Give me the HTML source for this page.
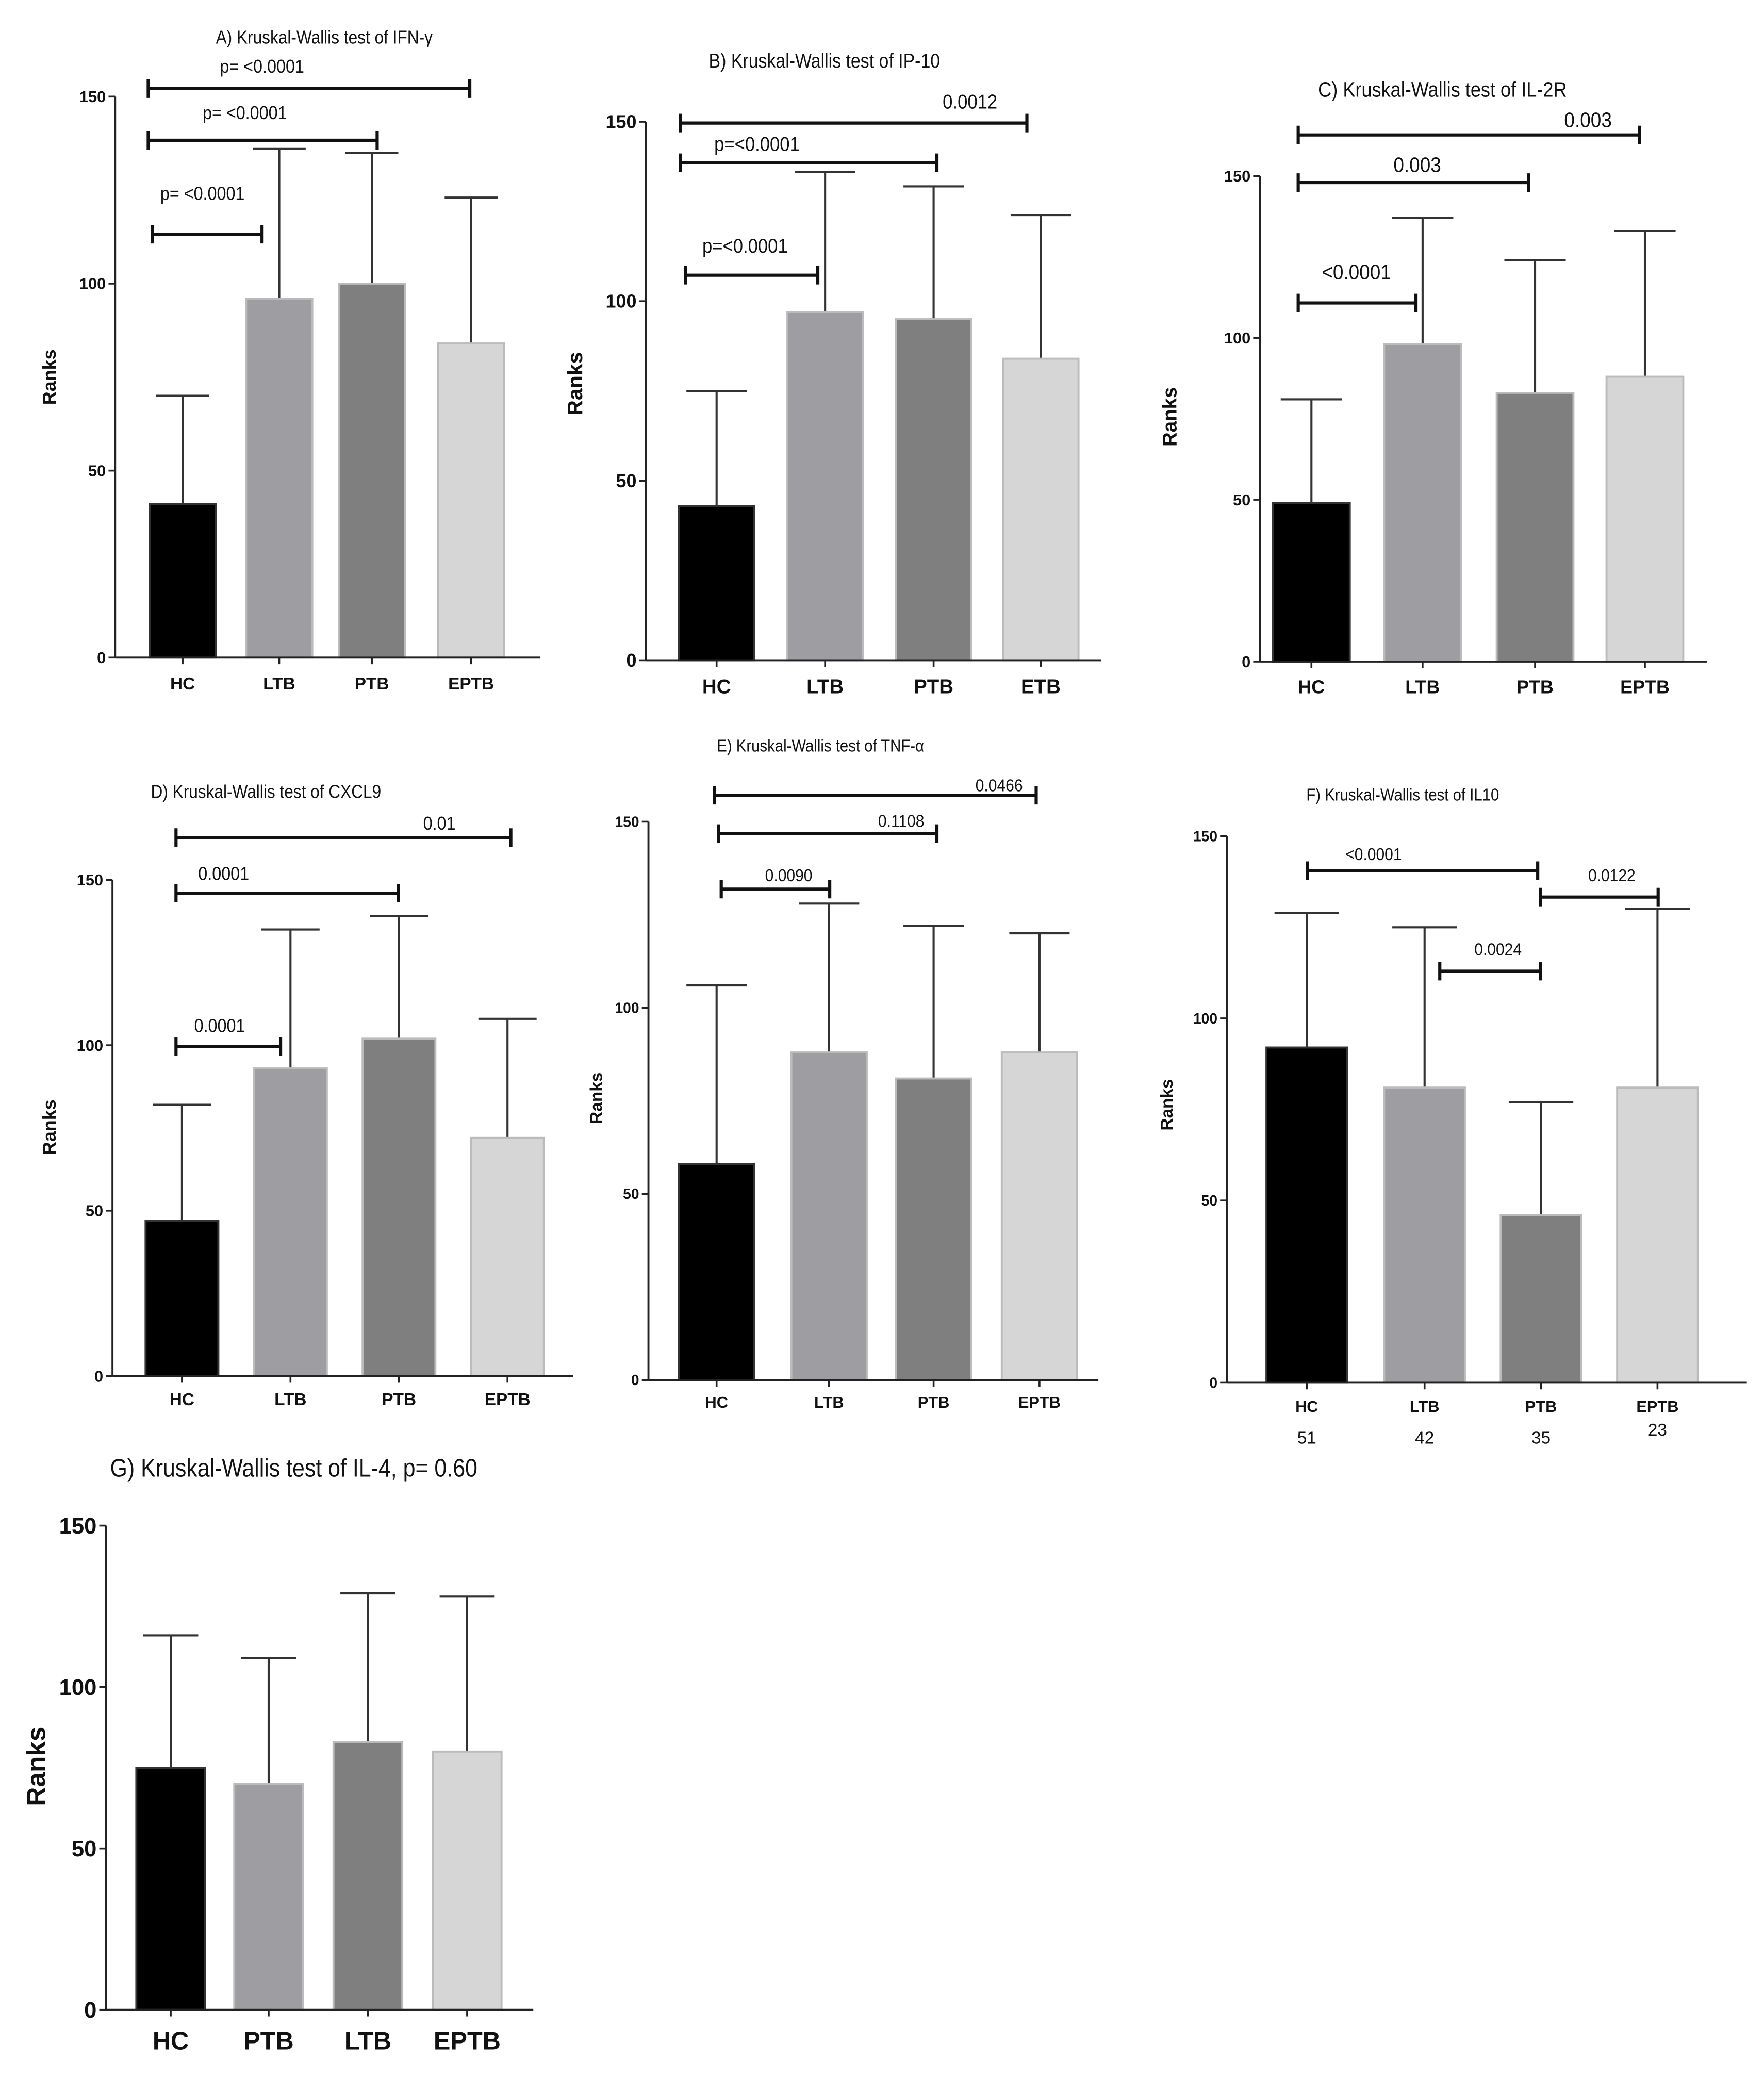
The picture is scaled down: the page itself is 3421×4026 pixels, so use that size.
<!DOCTYPE html>
<html><head><meta charset="utf-8">
<style>
html,body{margin:0;padding:0;background:#fff;}
svg{display:block;}
text{font-family:"Liberation Sans",Arial,sans-serif;fill:#111;}
</style></head>
<body>
<svg id="fig" width="3421" height="4026" viewBox="0 0 1333 1569" preserveAspectRatio="none" xmlns="http://www.w3.org/2000/svg"></svg>
<script>
// ---- data ----
const catsA = ["HC","LTB","PTB","EPTB"];
const valsA = [41, 96, 100, 84];
const errsA = [70, 136, 135, 123];
const catsB = ["HC","LTB","PTB","ETB"];
const valsB = [43, 97, 95, 84];
const errsB = [75, 136, 132, 124];
const catsC = ["HC","LTB","PTB","EPTB"];
const valsC = [49, 98, 83, 88];
const errsC = [81, 137, 124, 133];
const catsD = ["HC","LTB","PTB","EPTB"];
const valsD = [47, 93, 102, 72];
const errsD = [82, 135, 139, 108];
const catsE = ["HC","LTB","PTB","EPTB"];
const valsE = [58, 88, 81, 88];
const errsE = [106, 128, 122, 120];
const catsF = ["HC","LTB","PTB","EPTB"];
const valsF = [92, 81, 46, 81];
const errsF = [129, 125, 77, 130];
const countsF = ["51","42","35","23"];
const catsG = ["HC","PTB","LTB","EPTB"];
const valsG = [75, 70, 83, 80];
const errsG = [116, 109, 129, 128];
const yTicks = [0, 50, 100, 150];

const colors = ["#000000","#9e9ea2","#7f7f7f","#d6d6d6"];
const svg = document.getElementById('fig');
const NS = "http://www.w3.org/2000/svg";
function mk(tag, attrs, parent){
  const e = document.createElementNS(NS, tag);
  for (const k in attrs) e.setAttribute(k, attrs[k]);
  (parent||svg).appendChild(e);
  return e;
}

const panels = [
 {id:"a", cats:catsA, vals:valsA, errs:errsA, ax:87, ytop:73, ybot:497, xend:408, bx:[113,186,256,331], bw:50,
  title:"A) Kruskal-Wallis test of IFN-\u03b3", tx:245, ty:33, fs:14, tfs:12, xfs:13, rx:42, ry:285, xly:521,
  br:[[112,355,67,"p= <0.0001",198,55],[112,285,106,"p= <0.0001",185,90],[115,198,177,"p= <0.0001",153,151]]},
 {id:"b", cats:catsB, vals:valsB, errs:errsB, ax:488, ytop:92, ybot:499, xend:832, bx:[513,595,677,758], bw:57,
  title:"B) Kruskal-Wallis test of IP-10", tx:623, ty:51, fs:15, tfs:14, xfs:15, rx:440, ry:290, xly:524,
  br:[[514,776,93,"0.0012",733,82],[514,708,123,"p=<0.0001",572,114],[518,618,208,"p=<0.0001",563,191]]},
 {id:"c", cats:catsC, vals:valsC, errs:errsC, ax:952, ytop:133, ybot:500, xend:1290, bx:[962,1046,1131,1214], bw:58,
  title:"C) Kruskal-Wallis test of IL-2R", tx:1090, ty:73, fs:16, tfs:12, xfs:14, rx:889, ry:315, xly:524,
  br:[[981,1239,102,"0.003",1200,96],[981,1155,138,"0.003",1071,130],[981,1070,229,"<0.0001",1025,211]]},
 {id:"d", cats:catsD, vals:valsD, errs:errsD, ax:85, ytop:665, ybot:1040, xend:433, bx:[110,192,274,356], bw:55,
  title:"D) Kruskal-Wallis test of CXCL9", tx:201, ty:603, fs:14, tfs:12, xfs:13, rx:42, ry:852, xly:1062,
  br:[[133,386,633,"0.01",332,627],[133,301,675,"0.0001",169,665],[133,212,791,"0.0001",166,780]]},
 {id:"e", cats:catsE, vals:valsE, errs:errsE, ax:490, ytop:621, ybot:1043, xend:830, bx:[513,598,677,757], bw:57,
  title:"E) Kruskal-Wallis test of TNF-\u03b1", tx:620, ty:568, fs:13, tfs:11, xfs:12, rx:455, ry:830, xly:1064,
  br:[[540,783,601,"0.0466",755,598],[543,708,630,"0.1108",681,625],[545,627,672,"0.0090",596,666]]},
 {id:"f", cats:catsF, vals:valsF, errs:errsF, ax:927, ytop:632, ybot:1045, xend:1320, bx:[957,1046,1134,1222], bw:61,
  title:"F) Kruskal-Wallis test of IL10", tx:1060, ty:605, fs:13, tfs:11, xfs:12, rx:886, ry:835, xly:1067,
  br:[[988,1162,658,"<0.0001",1038,650],[1164,1253,678,"0.0122",1218,666],[1088,1164,734,"0.0024",1132,722]]},
 {id:"g", cats:catsG, vals:valsG, errs:errsG, ax:80, ytop:1153, ybot:1519, xend:403, bx:[103,177,252,327], bw:52,
  title:"G) Kruskal-Wallis test of IL-4, p= 0.60", tx:222, ty:1116, fs:19, tfs:17, xfs:19, rx:34, ry:1335, xly:1549, br:[]}
];

panels.forEach(p=>{
  const g = mk('g', {});
  
  
  const y = v => p.ybot - (v/150)*(p.ybot - p.ytop);
  const t = mk('text', {x:p.tx, y:p.ty, 'text-anchor':'middle', 'font-size':p.fs, 'transform':`translate(${p.tx},0) scale(0.88,1) translate(${-p.tx},0)`}, g);
  t.textContent = p.title;
  
  
  const yl = mk('text', {x:p.rx, y:p.ry, 'text-anchor':'middle', 'font-size':p.xfs+1, 'font-weight':'bold', transform:`rotate(-90 ${p.rx} ${p.ry})`}, g);
  yl.textContent = "Ranks";
  
  
  p.vals.forEach((v,i)=>{
    const x0 = p.bx[i], cx = x0 + p.bw/2;
    const eb = mk('line', {x1:cx, x2:cx, y1:y(v), y2:y(p.errs[i]), stroke:'#333', 'stroke-width':1.6}, g);
    
    
    const cap = mk('line', {x1:cx-p.bw*0.4, x2:cx+p.bw*0.4, y1:y(p.errs[i]), y2:y(p.errs[i]), stroke:'#333', 'stroke-width':1.6}, g);
    
    
    const r = mk('rect', {x:x0, y:y(v), width:p.bw, height:p.ybot - y(v), fill:colors[i], stroke: i===0?'#333':'#bbb', 'stroke-width':1.5}, g);
    
    
    const tk = mk('line', {x1:cx, x2:cx, y1:p.ybot, y2:p.ybot+5, stroke:'#222', 'stroke-width':1.4}, g);
    
    
    const xl = mk('text', {x:cx, y:p.xly, 'text-anchor':'middle', 'font-size':p.xfs, 'font-weight':'bold'}, g);
    xl.textContent = p.cats[i];
    
    
  });
  const yaxis = mk('line', {x1:p.ax, x2:p.ax, y1:p.ytop, y2:p.ybot, stroke:'#222', 'stroke-width':1.5}, g);
  
  
  const xaxis = mk('line', {x1:p.ax, x2:p.xend, y1:p.ybot, y2:p.ybot, stroke:'#222', 'stroke-width':1.5}, g);
  
  
  yTicks.forEach(tv=>{
    const tl = mk('line', {x1:p.ax-5, x2:p.ax, y1:y(tv), y2:y(tv), stroke:'#222', 'stroke-width':1.4}, g);
    
    
    const tt = mk('text', {x:p.ax-7, y:y(tv)+p.tfs*0.35, 'text-anchor':'end', 'font-size':p.tfs, 'font-weight':'bold'}, g);
    tt.textContent = tv;
    
    
  });
  p.br.forEach(b=>{
    const bl = mk('path', {d:`M${b[0]},${b[2]-7}V${b[2]+7}M${b[0]},${b[2]}H${b[1]}M${b[1]},${b[2]-7}V${b[2]+7}`, stroke:'#111', 'stroke-width':2.4, fill:'none', 'stroke-linecap':'butt'}, g);
    
    
    const bt = mk('text', {x:b[4], y:b[5], 'text-anchor':'middle', 'font-size':p.fs, transform:`translate(${b[4]},0) scale(0.9,1) translate(${-b[4]},0)`}, g);
    bt.textContent = b[3];
    
    
  });
  if (p.id === 'f') {
    const ny = [1091,1091,1091,1085];
    countsF.forEach((c,i)=>{
      const cx = p.bx[i] + p.bw/2;
      const ct = mk('text', {x:cx, y:ny[i], 'text-anchor':'middle', 'font-size':13}, g);
      ct.textContent = c;
      
      
    });
  }
});
</script>
</body></html>
